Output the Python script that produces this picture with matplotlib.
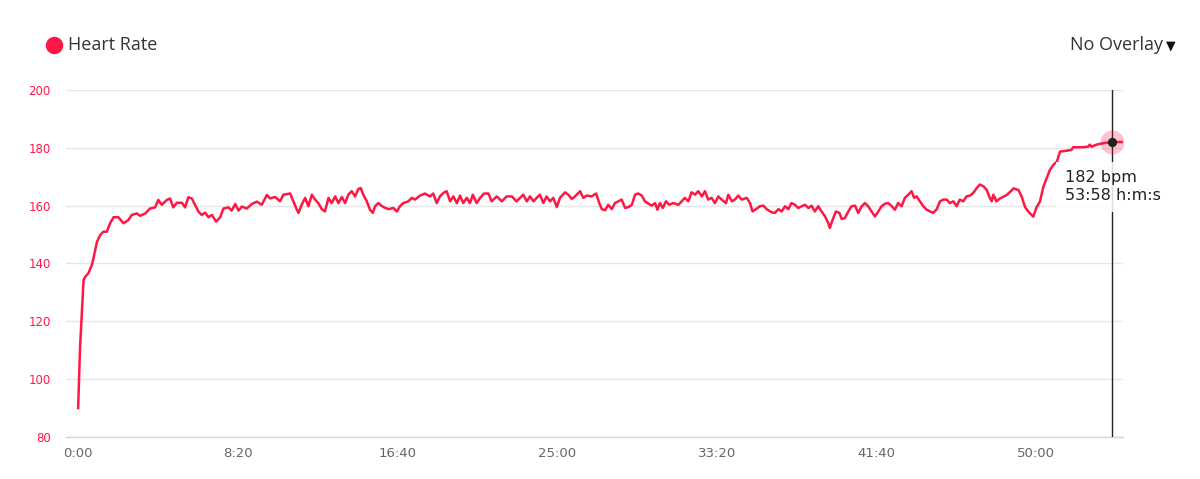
import numpy as np
import matplotlib
matplotlib.use("Agg")
import matplotlib.pyplot as plt
from matplotlib.lines import Line2D
from matplotlib.ticker import FixedLocator, FuncFormatter

# heart rate samples, time in seconds, bpm
t_sec = [0, 6, 17, 22, 32, 43, 48, 59, 69, 79, 90, 100, 111, 126, 142, 157, 168, 184, 194, 210,
         225, 241, 251, 262, 278, 288, 298, 309, 325, 335, 345, 356, 366, 377, 387, 398, 408, 419, 432, 445,
         455, 471, 481, 492, 502, 513, 528, 544, 560, 575, 591, 601, 617,
         632, 643, 664, 674, 685, 690, 700, 711, 721, 732, 742, 752, 763, 773, 784, 794, 805, 815, 826, 836,
         846, 857, 867, 878, 885, 893, 904, 914, 923, 930, 940, 956, 972, 987, 998, 1008, 1018, 1034, 1045,
         1055, 1071, 1086, 1102, 1112, 1123, 1133, 1144, 1154, 1165, 1175, 1186, 1196, 1206, 1217, 1227,
         1236, 1248, 1259, 1271, 1285, 1295, 1311, 1327, 1342, 1358, 1373,
         1384, 1394, 1405, 1415, 1426, 1436, 1446, 1457, 1467, 1478, 1488, 1499, 1509, 1525, 1535, 1546,
         1556, 1572, 1582, 1593, 1608, 1622, 1632, 1640, 1650, 1660, 1671, 1681, 1692, 1702, 1713, 1723,
         1734, 1744, 1754, 1765, 1775, 1786, 1796, 1807, 1814, 1822, 1831, 1841, 1851, 1864, 1880, 1890,
         1900, 1911, 1921, 1932, 1942, 1953, 1963, 1973, 1984, 1994, 2005, 2015, 2029, 2036, 2047, 2057,
         2067, 2078, 2094, 2104, 2112, 2123,
         2135, 2146, 2156, 2172, 2182, 2193, 2203, 2214, 2224, 2234, 2245, 2255, 2266, 2276, 2287, 2297,
         2307, 2318, 2328, 2339, 2349, 2354, 2363, 2373, 2384, 2391, 2401, 2412, 2422, 2433, 2443, 2454,
         2464, 2474, 2485, 2495, 2506, 2516, 2527, 2537, 2548, 2558, 2568, 2579, 2589, 2600, 2610, 2618,
         2626, 2636, 2647, 2657, 2668, 2678, 2689, 2699, 2710, 2720, 2730, 2741, 2751, 2761, 2772, 2782,
         2793, 2803, 2814, 2824, 2835, 2845, 2855, 2861, 2866, 2876,
         2887, 2908, 2924, 2929, 2945, 2955, 2965, 2976, 2991, 3002, 3012, 3023, 3033, 3043, 3054, 3065,
         3075, 3096, 3111, 3116, 3147, 3163, 3168, 3174, 3189, 3210, 3236, 3268]

hr = [90, 111, 134.3, 135.4, 136.6, 139.5, 141.8, 147.5, 149.8, 151, 151, 153.9, 156, 156, 153.9, 155, 156.8, 157.3, 156.5, 157.3,
      159, 159.4, 162, 160.3, 162, 162.5, 159.4, 161, 161, 159.4, 162.9, 162.5, 160.3, 157.9, 156.8, 157.6, 156, 156.8, 154.5, 156,
      159, 159.4, 158.3, 160.6, 158.3, 159.7, 159, 160.6, 161.4, 160.3, 163.7, 162.5, 163,
      161.5, 163.8, 164.2, 161.5, 158.6, 157.5, 160.3, 162.7, 159.8, 163.8, 162.1, 160.9, 158.8, 158, 162.7, 160.9, 163.2, 160.9, 163, 160.9,
      163.8, 165, 163.2, 165.8, 166.1, 163.8, 161.5, 158.6, 157.5, 159.8, 160.9, 159.5, 158.8, 159.2, 158, 159.8, 160.9, 161.5, 162.7,
      162.1, 163.5, 164.2, 163.2, 164.2, 160.9, 163.2, 164.4, 165, 161.5, 163.2, 160.9, 163.5, 160.9, 162.7, 160.9,
      163.8, 160.9, 162.7, 164.2, 164.2, 161.5, 163.2, 161.5, 163.2, 163.2, 161.5,
      162.7, 163.8, 161.5, 163.2, 161.5, 162.7, 163.8, 160.9, 163.2, 161.5, 162.7, 159.5, 162.7, 164.6, 163.8, 162.3,
      163.2, 165, 162.7, 163.5, 163.2, 164.2, 160.9, 158.8, 158.4, 160.3, 158.8, 160.9, 161.5, 162.1, 159.2, 159.5,
      160.3, 163.8, 164.2, 163.5, 161.5, 160.7, 160, 160.9, 158.6, 160.9, 159.2, 161.5, 160.3, 160.9, 160.3, 161.5,
      162.7, 161.5, 164.6, 163.8, 165, 163.2, 165, 162.1, 162.7, 160.9, 163.2, 162.1, 160.9, 163.8, 161.5, 162.1,
      163.5, 162.1, 162.7, 160.9, 158, 158.8,
      159.8, 160, 158.8, 157.7, 157.5, 158.8, 158, 159.8, 158.8, 160.9, 160.3, 159.2, 159.8, 160.3, 159.2, 160,
      158, 159.8, 158, 156.3, 154, 152.3, 155.2, 158, 157.5, 155.4, 155.7, 158, 159.8, 160, 157.5, 159.8,
      160.9, 159.8, 158, 156.3, 158, 159.8, 160.7, 160.9, 159.8, 158.6, 160.9, 159.8, 162.7, 163.8, 165, 162.7,
      163.2, 161.5, 159.8, 158.6, 158, 157.5, 158.8, 161.5, 162.1, 162.1, 160.9, 161.5, 159.8, 162.1, 161.5, 163.2,
      163.5, 164.4, 166.1, 167.3, 166.7, 165.5, 162.7, 161.5, 163.8, 161.5,
      162.5, 163.7, 165.3, 166, 165.4, 163.1, 159.6, 157.9, 156.2, 159.6, 161.4, 166.6, 169.5, 172.3, 174.1, 175.2,
      178.7, 179, 179.3, 180.2, 180.2, 180.4, 181.1, 180.4, 181.1, 181.6, 182, 182]

x_ticks = [0, 500, 1000, 1500, 2000, 2500, 3000]
y_ticks = [80, 100, 120, 140, 160, 180, 200]
hover_t = 3238
hover_hr = 182

RED = '#ff1744'

def mmss(v, pos=None):
    v = int(round(v))
    return f"{v // 60}:{v % 60:02d}"

fig = plt.figure(figsize=(12, 4.79), dpi=100)
ax = fig.add_axes([0.055, 0.0877, 0.8808, 0.7244])

ax.plot(t_sec, hr, color=RED, lw=1.8, zorder=3, solid_joinstyle='round')

ax.set_xlim(-38, 3272)
ax.set_ylim(80, 200)
ax.yaxis.set_major_locator(FixedLocator(y_ticks))
ax.xaxis.set_major_locator(FixedLocator(x_ticks))
ax.xaxis.set_major_formatter(FuncFormatter(mmss))
ax.grid(axis='y', color='#e6e6e6', lw=1)
ax.set_axisbelow(True)
for s in ['top', 'right', 'left']:
    ax.spines[s].set_visible(False)
ax.spines['bottom'].set_color('#ccd6eb')
ax.spines['bottom'].set_linewidth(1)
ax.tick_params(axis='y', length=0, colors=RED, labelsize=8.5, pad=11)
ax.tick_params(axis='x', length=0, colors='#666666', labelsize=9.5, pad=7)

# hover crosshair + tooltip
ax.axvline(hover_t, color='#222222', lw=1, zorder=4)
ax.scatter([hover_t], [hover_hr], s=300, color=RED, alpha=0.25, zorder=5, lw=0)
ax.scatter([hover_t], [hover_hr], s=45, color='#222222', zorder=6, lw=0)
ax.text(3090, 166.5, f"{hover_hr} bpm\n{mmss(hover_t)} h:m:s", fontsize=11.5, color='#222222',
        va='center', ha='left', linespacing=1.25, zorder=7,
        bbox=dict(boxstyle='square,pad=0.55', fc='white', ec='none', alpha=0.85))

# header
fig.add_artist(Line2D([54 / 1200], [1 - 45 / 479], marker='o', ms=11.5, color=RED, lw=0,
                      transform=fig.transFigure))
fig.text(68 / 1200, 1 - 45 / 479, 'Heart Rate', fontsize=13, color='#333333', va='center', ha='left',
         family=['Open Sans', 'DejaVu Sans'])
fig.text(1163 / 1200, 1 - 45 / 479, 'No Overlay', fontsize=13, color='#333333', va='center', ha='right',
         family=['Open Sans', 'DejaVu Sans'])
fig.text(1171 / 1200, 1 - 46 / 479, '\u25bc', fontsize=9, color='#111111', va='center', ha='center',
         family='DejaVu Sans')

fig.savefig('out.png', dpi=100)
